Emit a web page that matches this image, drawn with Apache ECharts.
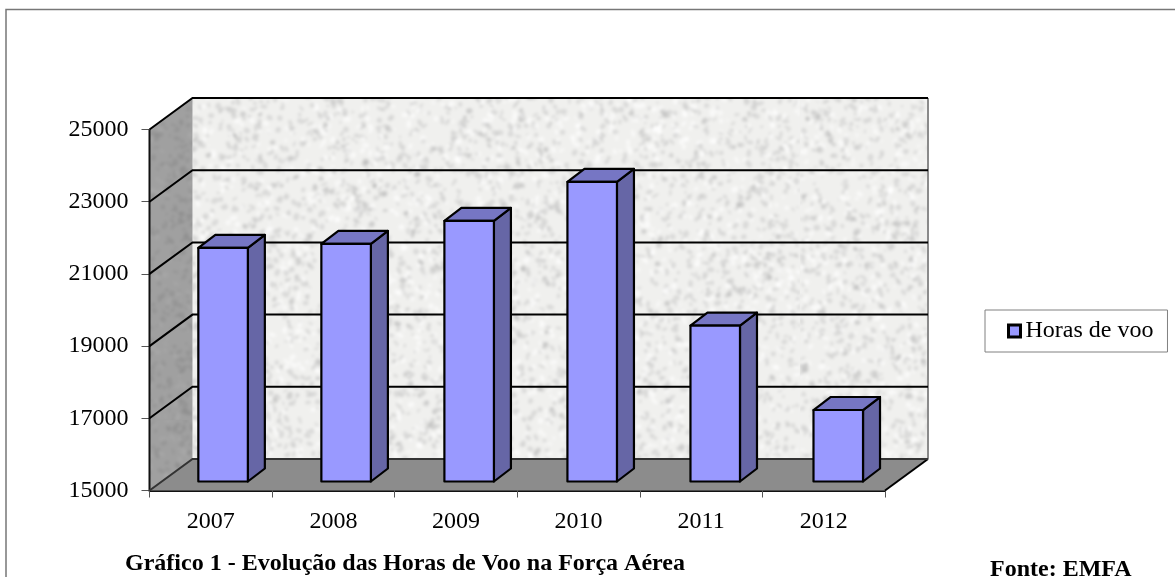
<!DOCTYPE html>
<html>
<head>
<meta charset="utf-8">
<script src="https://cdn.jsdelivr.net/npm/echarts@6/dist/echarts.min.js"></script>
<style>
  html, body { margin: 0; padding: 0; background: #fff; }
  #main { width: 1175px; height: 577px; }
</style>
</head>
<body>
<div id="main"></div>
<script>
const years = ["2007", "2008", "2009", "2010", "2011", "2012"];
const horasDeVoo = [21470, 21580, 22220, 23300, 19320, 16980];
const yTicks = [15000, 17000, 19000, 21000, 23000, 25000];

const FONT = '"Liberation Serif", "Times New Roman", serif';
// depth of the fake 3d box, in px
const WALL_DX = 43, WALL_DY = -31.5;
const BAR_DX = 17, BAR_DY = -13;
const BAR_SHIFT_X = 12.3, BAR_SHIFT_Y = -9;

// granite look of the walls, only a fill pattern
function makeTexture(size, bg, dark, light, spots) {
  const raw = document.createElement("canvas");
  raw.width = raw.height = size;
  const rc = raw.getContext("2d");
  rc.fillStyle = bg;
  rc.fillRect(0, 0, size, size);
  let seed = 48271;
  const next = () => (seed = (seed * 16807) % 2147483647) / 2147483647;
  for (let i = 0; i < spots; i++) {
    rc.fillStyle = i % 3 === 0 ? light : dark;
    rc.beginPath();
    rc.ellipse(next() * size, next() * size, 1 + next() * 3, 1 + next() * 2, next() * 3, 0, Math.PI * 2);
    rc.fill();
  }
  // blur once at the end, per spot it is far too slow
  const c = document.createElement("canvas");
  c.width = c.height = size;
  const ctx = c.getContext("2d");
  ctx.fillStyle = bg;
  ctx.fillRect(0, 0, size, size);
  ctx.filter = "blur(1.5px)";
  ctx.drawImage(raw, 0, 0);
  return c;
}
const backTexture = makeTexture(800, "#f0f0ee", "rgba(170,170,170,0.3)", "rgba(255,255,255,0.6)", 14000);
const sideTexture = makeTexture(420, "#a0a0a0", "rgba(125,125,125,0.3)", "rgba(185,185,185,0.25)", 4000);

function renderWalls(params, api) {
  const cs = params.coordSys;
  const x0 = cs.x, x1 = cs.x + cs.width;
  const y0 = api.coord([0, yTicks[0]])[1];
  const yTop = api.coord([0, yTicks[yTicks.length - 1]])[1];
  const children = [
    {
      type: "polygon",
      shape: { points: [[x0 + WALL_DX, yTop + WALL_DY], [x1 + WALL_DX, yTop + WALL_DY], [x1 + WALL_DX, y0 + WALL_DY], [x0 + WALL_DX, y0 + WALL_DY]] },
      style: { fill: { image: backTexture, repeat: "repeat" }, stroke: null },
    },
    {
      type: "polygon",
      shape: { points: [[x0, yTop], [x0 + WALL_DX, yTop + WALL_DY], [x0 + WALL_DX, y0 + WALL_DY], [x0, y0]] },
      style: { fill: { image: sideTexture, repeat: "repeat" }, stroke: null },
    },
    {
      type: "polygon",
      shape: { points: [[x0, y0], [x0 + WALL_DX, y0 + WALL_DY], [x1 + WALL_DX, y0 + WALL_DY], [x1, y0]] },
      style: { fill: "#8c8c8c", stroke: null },
    },
    {
      type: "line",
      shape: { x1: x1 + WALL_DX, y1: yTop + WALL_DY, x2: x1 + WALL_DX, y2: y0 + WALL_DY },
      style: { stroke: "#8a8a8a", lineWidth: 2 },
    },
    {
      type: "line",
      shape: { x1: x1, y1: y0, x2: x1 + WALL_DX, y2: y0 + WALL_DY },
      style: { stroke: "#000", lineWidth: 2 },
    },
    {
      type: "line",
      shape: { x1: x0, y1: yTop, x2: x0, y2: y0 },
      style: { stroke: "#111", lineWidth: 2 },
    },
  ];
  yTicks.forEach((t) => {
    const y = api.coord([0, t])[1];
    children.push({
      type: "polyline",
      shape: { points: [[x0, y], [x0 + WALL_DX, y + WALL_DY], [x1 + WALL_DX, y + WALL_DY]] },
      style: { fill: null, stroke: t === yTicks[0] ? "#333" : "#000", lineWidth: 2 },
    });
  });
  return { type: "group", children };
}

function renderBar(params, api) {
  const idx = api.value(0);
  const top = api.coord([idx, api.value(1)]);
  const base = api.coord([idx, yTicks[0]]);
  const w = api.size([1, 0])[0] * 0.404;
  const l = top[0] + BAR_SHIFT_X + idx * 0.45 - w / 2;
  const r = l + w;
  const t = top[1] + BAR_SHIFT_Y;
  const b = base[1] + BAR_SHIFT_Y;
  const line = { stroke: "#000", lineWidth: 2.2, lineJoin: "round" };
  return {
    type: "group",
    children: [
      {
        type: "polygon",
        shape: { points: [[r, t], [r + BAR_DX, t + BAR_DY], [r + BAR_DX, b + BAR_DY], [r, b]] },
        style: { fill: "#6666a6", ...line },
      },
      {
        type: "polygon",
        shape: { points: [[l, t], [l + BAR_DX, t + BAR_DY], [r + BAR_DX, t + BAR_DY], [r, t]] },
        style: { fill: "#7676c4", ...line },
      },
      {
        type: "rect",
        shape: { x: l, y: t, width: w, height: b - t },
        style: { fill: "#9999ff", ...line },
      },
    ],
  };
}

const chart = echarts.init(document.getElementById("main"));
chart.setOption({
  animation: false,
  backgroundColor: "#fff",
  textStyle: { fontFamily: FONT },
  title: [
    {
      text: "Gráfico 1 - Evolução das Horas de Voo na Força Aérea",
      left: 125, top: 552, padding: 0,
      textStyle: { fontFamily: FONT, fontSize: 24, fontWeight: "bold", color: "#000" },
    },
    {
      text: "Fonte: EMFA",
      left: 990, top: 558, padding: 0,
      textStyle: { fontFamily: FONT, fontSize: 24, fontWeight: "bold", color: "#000" },
    },
  ],
  legend: {
    data: ["Horas de voo"],
    left: 985, top: 310,
    padding: [9, 14, 9, 22],
    borderColor: "#808080", borderWidth: 1,
    backgroundColor: "#fff",
    icon: "rect",
    itemWidth: 12, itemHeight: 12,
    itemStyle: { color: "#9999ff", borderColor: "#000", borderWidth: 3 },
    textStyle: { fontFamily: FONT, fontSize: 24, color: "#000" },
  },
  grid: { left: 149.5, top: 129.5, width: 735.5, height: 361, containLabel: false },
  xAxis: {
    type: "category",
    data: years,
    axisLine: { lineStyle: { color: "#111", width: 2 } },
    axisTick: { show: true, alignWithLabel: false, length: 7, lineStyle: { color: "#555" } },
    axisLabel: { fontFamily: FONT, fontSize: 24, color: "#000", margin: 19 },
  },
  yAxis: {
    type: "value",
    min: 15000, max: 25000, interval: 1000,
    splitLine: { show: false },
    axisLine: { show: false },
    axisTick: { show: true, length: 8, customValues: yTicks, lineStyle: { color: "#555" } },
    axisLabel: {
      fontFamily: FONT, fontSize: 24, color: "#000", margin: 21,
      padding: [5, 0, 0, 0],
      customValues: yTicks,
      formatter: (v) => String(v),
    },
  },
  series: [
    {
      type: "custom",
      silent: true,
      renderItem: renderWalls,
      data: [[0, yTicks[0]]],
      z: 1,
    },
    {
      name: "Horas de voo",
      type: "custom",
      renderItem: renderBar,
      encode: { x: 0, y: 1 },
      itemStyle: { color: "#9999ff" },
      data: horasDeVoo.map((v, i) => [i, v]),
      z: 2,
    },
  ],
  graphic: [
    {
      type: "polyline",
      shape: { points: [[6, 577], [6, 9.5], [1175, 9.5]] },
      style: { fill: null, stroke: "#777", lineWidth: 1.5 },
      silent: true,
    },
  ],
});
window.onresize = () => chart.resize();
</script>
</body>
</html>
